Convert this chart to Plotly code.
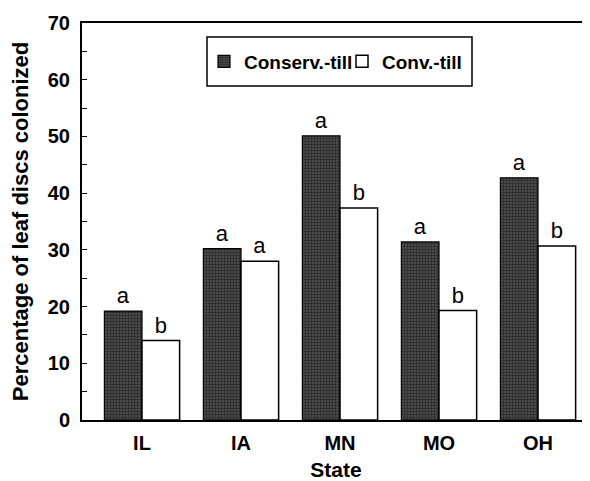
import plotly.graph_objects as go

states = ["IL", "IA", "MN", "MO", "OH"]
conserv_till = [19.2, 30.2, 50.1, 31.4, 42.7]
conv_till = [14.0, 28.0, 37.4, 19.3, 30.7]
conserv_letters = ["a", "a", "a", "a", "a"]
conv_letters = ["b", "a", "b", "b", "b"]
y_ticks = [0, 10, 20, 30, 40, 50, 60, 70]

FONT = "Liberation Sans, Arial, sans-serif"

# The page body has an 8px margin, so the figure is made 8px smaller
# and its margins shifted so that the plot area sits at x 82..590, y 23..420.
W, H = 582, 473
ML, MT = 74, 15
PW, PH = 508, 397
MB = H - MT - PH

def px_x(x):
    return (x - 82) / PW

def px_y(y):
    return 1 - (y - 23) / PH

fig = go.Figure()
fig.add_trace(go.Bar(
    x=states, y=conserv_till, name="Conserv.-till",
    marker=dict(color="#2e2e2e", line=dict(color="black", width=1.2),
                pattern=dict(shape="+", fgcolor="#151515", bgcolor="#4a4a4a", size=3, solidity=0.5)),
    text=conserv_letters, textposition="outside",
    textfont=dict(family=FONT, size=22, color="black"), cliponaxis=False,
))
fig.add_trace(go.Bar(
    x=states, y=conv_till, name="Conv.-till",
    marker=dict(color="white", line=dict(color="black", width=1.5)),
    text=conv_letters, textposition="outside",
    textfont=dict(family=FONT, size=22, color="black"), cliponaxis=False,
))

fig.update_layout(
    width=W, height=H,
    margin=dict(l=ML, r=0, t=MT, b=MB, autoexpand=False),
    paper_bgcolor="white", plot_bgcolor="white",
    barmode="group", bargap=0.24, bargroupgap=0,
    font=dict(family=FONT, color="black"),
    showlegend=True,
    legend=dict(
        orientation="h", x=px_x(204), y=px_y(61.5),
        xanchor="left", yanchor="middle",
        bgcolor="rgba(0,0,0,0)", borderwidth=0,
        font=dict(family=FONT, size=19, color="black", weight="bold"),
        itemwidth=30, entrywidth=93, entrywidthmode="pixels", itemclick=False,
    ),
    shapes=[dict(type="rect", xref="paper", yref="paper",
                 x0=px_x(207), x1=px_x(472), y0=px_y(86), y1=px_y(37),
                 line=dict(color="black", width=1.5), fillcolor="rgba(0,0,0,0)")],
)

fig.update_xaxes(
    range=[-0.606, 4.525], showline=True, linecolor="black", linewidth=2,
    mirror=True, ticks="", showgrid=False, zeroline=False, automargin=False,
    ticklabelstandoff=4,
    tickfont=dict(family=FONT, size=20, color="black", weight="bold"),
    title=dict(text="State", font=dict(family=FONT, size=21, color="black", weight="bold")),
)
fig.update_yaxes(
    range=[0, 70], tickvals=y_ticks, showline=True, linecolor="black", linewidth=2,
    ticks="inside", ticklen=5, tickwidth=1, tickcolor="black",
    minor=dict(dtick=5, ticks="inside", ticklen=5, tickwidth=1, tickcolor="black", showgrid=False),
    showgrid=False, zeroline=False, automargin=False,
    ticklabelstandoff=6,
    tickfont=dict(family=FONT, size=20, color="black", weight="bold"),
    title=dict(text="Percentage of leaf discs colonized",
               font=dict(family=FONT, size=22, color="black", weight="bold")),
)

fig.write_html("out.html")
